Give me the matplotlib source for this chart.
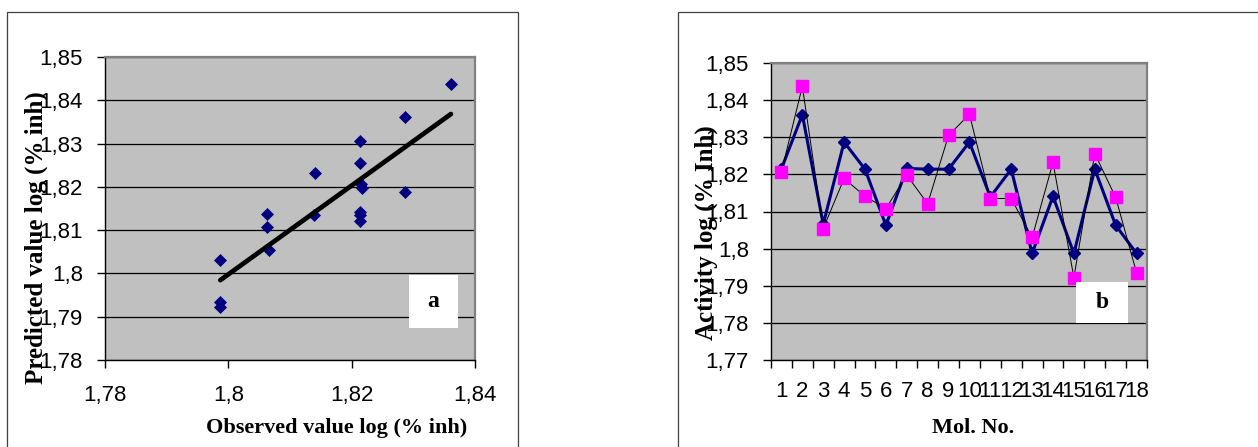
"""plot.py — QSAR observed vs predicted activity, two panels (a: scatter, b: per molecule)."""
import matplotlib
matplotlib.use("Agg")
import matplotlib.pyplot as plt
from matplotlib.patches import Rectangle
from matplotlib.ticker import FuncFormatter, MultipleLocator
import numpy as np

# ---------------------------------------------------------------------------
# Data
# ---------------------------------------------------------------------------
mol_no = list(range(1, 19))
observed = [1.8215, 1.8361, 1.8066, 1.8287, 1.8214, 1.8063, 1.8216, 1.8214, 1.8214,
            1.8287, 1.8139, 1.8214, 1.7987, 1.8141, 1.7987, 1.8214, 1.8063, 1.7987]
predicted = [1.8207, 1.8437, 1.8054, 1.8189, 1.8141, 1.8108, 1.8198, 1.8121, 1.8305,
             1.8362, 1.8135, 1.8135, 1.8030, 1.8232, 1.7922, 1.8256, 1.8138, 1.7935]

NAVY = "#000080"
MAGENTA = "#FF00FF"
PLOT_BG = "#C0C0C0"
TICK_FONT = dict(family="Liberation Sans", size=16)
XLABEL_FONT = dict(family="Liberation Serif", size=16, weight="bold")
YLABEL_FONT = dict(family="Liberation Serif", size=18, weight="bold")


def comma_fmt(v, _pos):
    return f"{v:g}".replace(".", ",")


def style_axes(ax):
    ax.set_facecolor(PLOT_BG)
    ax.grid(axis="y", color="black", linewidth=0.9)
    ax.set_axisbelow(True)
    for side in ("left", "bottom"):
        ax.spines[side].set_color("black")
        ax.spines[side].set_linewidth(1.0)
    for side in ("top", "right"):
        ax.spines[side].set_color("#808080")
        ax.spines[side].set_linewidth(1.6)
    ax.yaxis.set_major_formatter(FuncFormatter(comma_fmt))
    ax.tick_params(direction="out", length=6, width=1.0, color="black")
    ax.tick_params(axis="y", pad=10)
    for lab in ax.get_xticklabels() + ax.get_yticklabels():
        lab.set_fontfamily(TICK_FONT["family"])
        lab.set_fontsize(TICK_FONT["size"])


def label_box(ax, text, x0, y0, x1, y1):
    ax.add_patch(Rectangle((x0, y0), x1 - x0, y1 - y0, transform=ax.transAxes,
                           facecolor="white", edgecolor="none", zorder=5))
    ax.text((x0 + x1) / 2, (y0 + y1) / 2, text, transform=ax.transAxes,
            ha="center", va="center", zorder=6, family="Liberation Serif",
            weight="bold", size=17)


W, H = 1258, 447
fig = plt.figure(figsize=(W / 100, H / 100), dpi=100)

# panel frames
fig.patches.append(Rectangle((7 / W, -0.1), 511 / W, 1.1 - 12 / H, transform=fig.transFigure,
                             fill=False, edgecolor="#404040", linewidth=0.9))
fig.patches.append(Rectangle((678 / W, -0.1), 1.0, 1.1 - 12 / H, transform=fig.transFigure,
                             fill=False, edgecolor="#404040", linewidth=0.9))

# ---------------------------------------------------------------------------
# Panel a: predicted vs observed with linear trend line
# ---------------------------------------------------------------------------
ax_a = fig.add_axes([105 / W, (H - 360) / H, 370 / W, 303 / H])
ax_a.scatter(observed, predicted, marker="D", s=44, color=NAVY, zorder=3, linewidths=0)
slope, intercept = np.polyfit(observed, predicted, 1)
xs = np.array([min(observed), max(observed)])
ax_a.plot(xs, slope * xs + intercept, color="black", linewidth=3.4, zorder=4,
          solid_capstyle="round")
ax_a.set_xlim(1.78, 1.84)
ax_a.set_ylim(1.78, 1.85)
ax_a.xaxis.set_major_locator(MultipleLocator(0.02))
ax_a.yaxis.set_major_locator(MultipleLocator(0.01))
ax_a.xaxis.set_major_formatter(FuncFormatter(comma_fmt))
style_axes(ax_a)
ax_a.tick_params(axis="x", pad=12)
label_box(ax_a, "a", 0.822, 0.106, 0.954, 0.280)

fig.text(36 / W, 1 - 238 / H, "Predicted value log (% inh)", rotation=90,
         ha="center", va="center", **YLABEL_FONT)
fig.text(337 / W, 1 - 428 / H, "Observed value log (% inh)",
         ha="center", va="center", **XLABEL_FONT)

# ---------------------------------------------------------------------------
# Panel b: activity per molecule
# ---------------------------------------------------------------------------
ax_b = fig.add_axes([771 / W, (H - 360) / H, 376 / W, 297 / H])
ax_b.plot(mol_no, observed, color=NAVY, linewidth=2.2, marker="D", markersize=6,
          zorder=3)
ax_b.plot(mol_no, predicted, color="black", linewidth=0.7, zorder=4)
ax_b.plot(mol_no, predicted, linestyle="none", marker="s", markersize=8,
          markerfacecolor=MAGENTA, markeredgecolor=MAGENTA, zorder=5)
ax_b.set_xlim(0.5, 18.5)
ax_b.set_ylim(1.77, 1.85)
ax_b.set_xticks(mol_no)
ax_b.set_xticklabels([str(m) for m in mol_no])
ax_b.set_xticks(np.arange(0.5, 19, 1), minor=True)
ax_b.yaxis.set_major_locator(MultipleLocator(0.01))
style_axes(ax_b)
ax_b.tick_params(axis="x", which="major", length=0, pad=15)
ax_b.tick_params(axis="x", which="minor", direction="out", length=6, width=1.0)
label_box(ax_b, "b", 0.811, 0.125, 0.949, 0.263)

fig.text(706 / W, 1 - 233 / H, "Activity log (% Inh)", rotation=90,
         ha="center", va="center", **YLABEL_FONT)
fig.text(973 / W, 1 - 428 / H, "Mol. No.", ha="center", va="center", **XLABEL_FONT)

fig.savefig("out.png", dpi=100)
